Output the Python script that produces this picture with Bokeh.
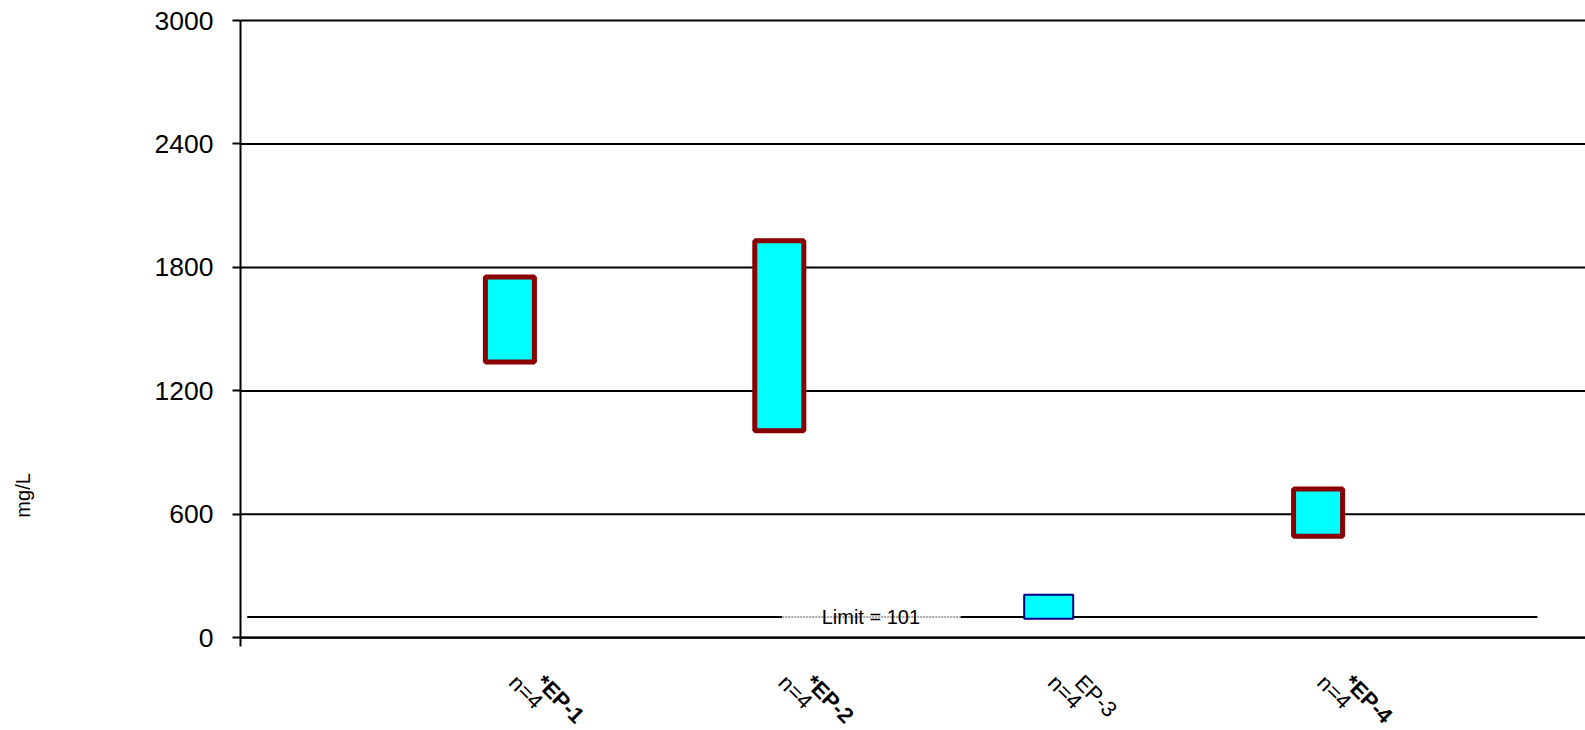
import math
from bokeh.plotting import figure
from bokeh.models import ColumnDataSource, Range1d, FixedTicker, Label
from bokeh.embed import file_html
from bokeh.resources import INLINE

# ---- data ----
categories = ["*EP-1", "*EP-2", "EP-3", "*EP-4"]
counts = ["n=4", "n=4", "n=4", "n=4"]
low = [1340, 1006, 92, 493]
high = [1753, 1930, 209, 723]
border_colors = ["#8B0000", "#8B0000", "#000080", "#8B0000"]
border_widths = [5, 5, 2, 5]
limit_value = 101
y_ticks = [0, 600, 1200, 1800, 2400, 3000]
y_label = "mg/L"

FONT = "Liberation Sans"
positions = [i + 1 for i in range(len(categories))]

# ---- layout (pixel geometry of the frame) ----
W, H = 1585, 730
axis_px_x = 240.0        # y axis position on the canvas
px_per_cat = 269.4       # horizontal pixels per category slot
top_px, zero_px = 20.0, 637.3   # canvas y of 3000 and of 0
px_per_unit = (zero_px - top_px) / 3000.0

x_start = -axis_px_x / px_per_cat
x_end = (W - axis_px_x) / px_per_cat
y_end = 3000 + top_px / px_per_unit
y_start = -(H - zero_px) / px_per_unit

p = figure(width=W, height=H, output_backend="svg", toolbar_location=None,
           x_range=Range1d(x_start, x_end), y_range=Range1d(y_start, y_end),
           min_border=0, min_border_left=0, min_border_right=0,
           min_border_top=0, min_border_bottom=0)
p.outline_line_color = None
p.background_fill_color = "white"
p.border_fill_color = "white"
p.xgrid.visible = False
p.ygrid.visible = False

# horizontal grid lines, from the y axis to the right edge
p.segment(x0=[0] * len(y_ticks), y0=y_ticks, x1=[x_end] * len(y_ticks), y1=y_ticks,
          line_color="black", line_width=2)

# y axis at x = 0 (its line runs a little below zero, as in the original)
ya = p.yaxis[0]
ya.fixed_location = 0
ya.bounds = (-9 / px_per_unit, 3000)
ya.ticker = FixedTicker(ticks=y_ticks)
ya.axis_line_color = "black"
ya.axis_line_width = 2
ya.major_tick_line_width = 2
ya.major_tick_out = 8
ya.major_tick_in = 0
ya.minor_tick_line_color = None
ya.major_label_standoff = 19
ya.major_label_text_font = FONT
ya.major_label_text_font_size = "26.5px"
ya.major_label_text_color = "black"

# x axis at y = 0
xa = p.xaxis[0]
xa.fixed_location = 0
xa.bounds = (0, x_end)
xa.ticker = FixedTicker(ticks=[])
xa.axis_line_color = "black"
xa.axis_line_width = 2
xa.major_tick_line_color = None
xa.minor_tick_line_color = None

# limit line (broken where label sits)
seg_x0 = [0.025, 2.011, 2.673]
seg_x1 = [2.011, 2.673, 4.814]
p.segment(x0=[seg_x0[0]], y0=[limit_value], x1=[seg_x1[0]], y1=[limit_value], line_color="black", line_width=2)
p.segment(x0=[seg_x0[1]], y0=[limit_value], x1=[seg_x1[1]], y1=[limit_value], line_color="#A8A8A8",
          line_width=2, line_dash="2 1")
p.segment(x0=[seg_x0[2]], y0=[limit_value], x1=[seg_x1[2]], y1=[limit_value], line_color="black", line_width=2)
p.add_layout(Label(x=2.34, y=limit_value, text=f"Limit = {limit_value}", text_align="center",
                   text_baseline="alphabetic", y_offset=0, text_font=FONT, text_font_size="20px",
                   text_color="black"))

# boxes
src = ColumnDataSource(dict(x=positions, top=high, bottom=low, lc=border_colors, lw=border_widths))
p.vbar(x="x", width=0.182, top="top", bottom="bottom", source=src,
       fill_color="#00FFFF", line_color="lc", line_width="lw")

# category labels (rotated)
for pos, cat, n in zip(positions, categories, counts):
    p.add_layout(Label(x=pos, y=0, x_offset=3, y_offset=-41, text=n, angle=-math.pi / 4,
                       text_align="left", text_baseline="alphabetic", text_font=FONT,
                       text_font_size="22px", text_color="black"))
    p.add_layout(Label(x=pos, y=0, x_offset=30, y_offset=-41, text=cat, angle=-math.pi / 4,
                       text_align="left", text_baseline="alphabetic", text_font=FONT,
                       text_font_size="22px", text_color="black",
                       text_font_style="bold" if cat.startswith("*") else "normal"))

# y axis title
p.add_layout(Label(x=-(axis_px_x - 22) / px_per_cat, y=692, text=y_label, angle=math.pi / 2,
                   text_align="center", text_baseline="middle", text_font=FONT,
                   text_font_size="20px", text_color="black"))

open("out.html", "w").write(file_html(p, INLINE))
